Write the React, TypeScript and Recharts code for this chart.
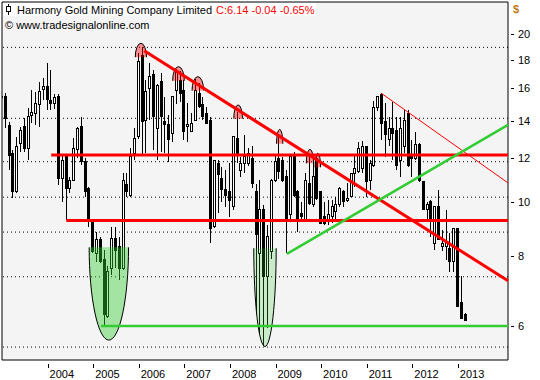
import {
  Bar,
  CartesianGrid,
  ComposedChart,
  ReferenceArea,
  ReferenceLine,
  XAxis,
  YAxis,
} from "recharts";

// monthly candles, Jan 2003 .. Mar 2013
const FIRST_YEAR = 2003;

const opens = [
  15.4, 15.46, 13.7, 12.24, 10.45, 12.75, 13.66, 12.49, 14.3, 14.43,
  14.94, 15.9, 16.15, 15.2, 15.0, 15.46, 11.04, 12.07, 10.59, 10.96,
  12.41, 13.66, 11.82, 10.59, 9.2, 8.1, 8.56, 7.88, 6.25, 7.6,
  8.62, 8.33, 7.61, 10.74, 10.3, 12.24, 13.1, 18.3, 14.04, 16.0,
  16.91, 13.57, 16.45, 13.95, 13.76, 13.29, 15.89, 16.56, 15.89, 13.66,
  13.38, 14.04, 15.68, 14.94, 14.43, 14.04, 9.04, 11.74, 11.04, 10.52,
  10.45, 9.82, 13.02, 11.42, 11.74, 11.74, 11.99, 10.44, 8.1, 9.69,
  7.35, 8.16, 10.96, 11.99, 11.9, 11.11, 9.49, 12.15, 10.45, 9.55,
  9.29, 10.81, 9.89, 11.99, 10.45, 9.42, 9.29, 9.42, 9.62, 9.89,
  10.45, 10.09, 10.23, 11.27, 11.34, 11.5, 12.58, 10.96, 11.66, 14.8,
  15.6, 13.95, 12.93, 13.57, 13.47, 11.9, 12.58, 14.43, 12.07, 11.99,
  12.71, 10.89, 9.72, 10.02, 8.44, 9.82, 8.33, 8.33, 8.27, 7.82,
  8.98, 6.6, 6.28,
];

const highs = [
  15.8, 15.7, 13.95, 12.41, 13.11, 13.66, 14.14, 14.73, 15.89, 15.78,
  16.45, 16.68, 17.74, 17.26, 15.6, 15.6, 12.15, 12.15, 11.11, 13.02,
  13.66, 14.24, 11.99, 10.66, 9.3, 8.86, 8.68, 8.21, 7.7, 9.04,
  9.04, 8.68, 11.27, 11.27, 12.49, 13.57, 18.5, 19.0, 16.56, 17.74,
  17.26, 16.3, 17.02, 15.46, 14.34, 15.46, 17.35, 17.2, 16.56, 15.04,
  14.43, 16.6, 16.34, 15.46, 14.84, 14.24, 11.9, 11.9, 11.58, 11.42,
  11.74, 13.11, 14.5, 12.07, 13.2, 12.5, 12.6, 10.8, 10.96, 9.9,
  9.1, 11.0, 12.15, 13.1, 12.07, 11.42, 12.15, 12.32, 10.52, 10.02,
  11.27, 12.2, 11.74, 12.05, 10.45, 10.02, 10.09, 10.09, 10.23, 10.66,
  10.52, 10.81, 11.27, 12.15, 12.84, 12.9, 12.58, 11.9, 15.2, 15.5,
  15.7, 15.04, 14.24, 15.15, 14.24, 14.24, 14.63, 14.63, 12.93, 13.38,
  12.75, 10.89, 10.02, 10.09, 9.82, 10.52, 8.92, 9.69, 8.8, 9.0,
  9.0, 7.36, 6.32,
];

const lows = [
  15.1, 13.57, 11.42, 10.16, 10.37, 12.32, 12.32, 11.9, 13.85, 13.76,
  13.66, 15.25, 14.63, 14.63, 14.7, 10.74, 10.02, 9.29, 10.37, 10.96,
  11.99, 11.66, 10.23, 9.04, 8.1, 7.82, 7.77, 6.0, 6.2, 7.41,
  7.61, 7.26, 7.55, 10.23, 10.23, 11.9, 13.0, 12.15, 12.24, 14.04,
  12.41, 11.9, 12.32, 12.24, 11.82, 12.84, 15.0, 15.15, 12.93, 12.84,
  13.38, 14.0, 14.73, 14.04, 13.85, 8.44, 8.98, 9.55, 10.02, 9.82,
  9.42, 9.69, 11.74, 11.11, 11.27, 11.6, 10.6, 6.3, 5.8, 5.55,
  5.96, 7.9, 10.89, 11.0, 10.89, 8.1, 9.29, 10.23, 8.86, 9.29,
  9.23, 9.89, 9.82, 10.09, 9.17, 9.11, 9.11, 9.17, 9.29, 9.82,
  9.82, 10.02, 10.23, 10.66, 11.27, 11.27, 10.23, 10.52, 11.58, 14.6,
  12.93, 12.07, 12.6, 11.9, 11.42, 11.11, 12.24, 11.58, 11.11, 11.9,
  10.89, 9.69, 9.29, 8.68, 8.21, 8.56, 8.16, 7.88, 7.51, 7.51,
  6.5, 6.17, 6.12,
];

const closes = [
  15.45, 14.14, 12.15, 10.45, 12.58, 13.47, 12.49, 14.24, 14.5, 15.04,
  15.78, 16.15, 15.25, 15.0, 15.4, 11.04, 11.9, 10.59, 10.96, 12.49,
  13.57, 11.82, 10.45, 9.36, 8.16, 8.56, 7.82, 6.28, 7.5, 8.62,
  8.21, 7.61, 10.96, 10.45, 12.07, 13.02, 17.9, 13.95, 15.78, 16.79,
  14.24, 16.22, 14.24, 13.76, 12.93, 15.46, 17.1, 15.68, 13.38, 13.76,
  13.85, 15.89, 14.84, 14.24, 13.85, 8.98, 11.9, 11.19, 10.52, 10.3,
  10.09, 13.11, 12.24, 11.74, 12.07, 12.24, 10.81, 8.74, 9.69, 7.35,
  8.68, 10.96, 11.82, 11.34, 10.96, 9.29, 12.07, 10.3, 9.29, 9.42,
  10.96, 9.95, 11.11, 10.16, 9.17, 9.17, 9.49, 9.82, 9.89, 10.59,
  10.02, 10.16, 11.27, 11.5, 12.49, 12.58, 10.89, 11.74, 14.8, 15.46,
  13.85, 13.2, 13.57, 13.29, 11.66, 13.57, 14.04, 11.66, 11.99, 12.67,
  10.96, 9.69, 9.89, 9.29, 9.82, 8.56, 8.44, 8.5, 7.82, 8.98,
  6.5, 6.19, 6.14,
];

const yearTicks = [2004, 2005, 2006, 2007, 2008, 2009, 2010, 2011, 2012, 2013];
const priceTicks = [6, 8, 10, 12, 14, 16, 18, 20];
const gridLevels = [18.95, 14.14, 11.82, 10.21, 8.84, 7.35, 5.5];

// drawn support / resistance levels: start time, price
const redLevels = [
  { from: 2004.08, value: 12.15 },
  { from: 2004.41, value: 9.27 },
];
const greenLevels = [{ from: 2005.17, value: 6.0 }];

// trend lines: [t1, p1, t2, p2]
const mainDownTrend = [2006.12, 18.69, 2014.1, 7.23];
const thinDownTrend = [2011.32, 15.68, 2014.1, 10.83];
const upTrend = [2009.25, 8.08, 2014.1, 13.76];

// marked tops (t1, t2, upper price, lower price)
const tops = [
  [2005.923, 2006.171, 19.27, 18.19],
  [2006.743, 2007.0, 17.5, 16.51],
  [2007.169, 2007.424, 16.79, 15.85],
  [2008.084, 2008.275, 14.94, 14.12],
  [2009.022, 2009.161, 13.51, 12.73],
  [2009.675, 2009.835, 12.44, 11.74],
  [2009.868, 2009.989, 12.24, 11.55],
];

// marked bottoms
const bottoms = [
  [2004.912, 2005.776, 8.3, 5.66],
  [2008.523, 2009.015, 8.27, 5.51],
];

const X_DOMAIN: [number, number] = [2003, 2014.1];
const Y_DOMAIN: [number, number] = [5.214, 22.85];

const FONT = '"Liberation Sans", Arial, sans-serif';
const RED = "#ff0000";
const GREEN = "#33cc33";

const data = opens.map((open, i) => ({
  t: FIRST_YEAR + i / 12,
  open,
  high: highs[i],
  low: lows[i],
  close: closes[i],
}));

function Candle(props: any) {
  const { x, y, width, height, payload } = props;
  if (!payload) return null;
  const top = Math.min(y, y + height);
  const h = Math.abs(height);
  const span = Math.log(payload.high / payload.low);
  const yOf = (v: number) => top + (span > 0 ? (h * Math.log(payload.high / v)) / span : 0);
  const cx = Math.floor(x + width / 2) + 0.5;
  const bodyTop = yOf(Math.max(payload.open, payload.close));
  const bodyBottom = yOf(Math.min(payload.open, payload.close));
  const rising = payload.close >= payload.open;
  return (
    <g shapeRendering="crispEdges">
      <line x1={cx} x2={cx} y1={top} y2={top + h} stroke="#000" strokeWidth={1} />
      <rect
        x={cx - 1}
        y={bodyTop}
        width={2}
        height={Math.max(bodyBottom - bodyTop, 1)}
        fill={rising ? "#fff" : "#000"}
        stroke="#000"
        strokeWidth={1}
      />
    </g>
  );
}

const topMarker = (p: any) => {
  const { x, y, width: w, height: h } = p;
  const base = y + h;
  const arc = `M${x},${base} A${w / 2},${h} 0 0 1 ${x + w},${base}`;
  return (
    <g>
      <path d={arc + " Z"} fill={RED} fillOpacity={0.42} />
      <path d={arc} fill="none" stroke="#000" strokeWidth={1} />
    </g>
  );
};

const bottomMarker = (opacity: number) => (p: any) => {
  const { x, y, width: w, height: h } = p;
  const arc = `M${x},${y} A${w / 2},${h} 0 0 0 ${x + w},${y}`;
  return (
    <g>
      <path d={arc + " Z"} fill={GREEN} fillOpacity={opacity} />
      <path d={arc} fill="none" stroke="#000" strokeWidth={1} />
    </g>
  );
};

function YearTick({ x, y, payload }: any) {
  const xx = Math.round(x) + 0.5;
  return (
    <g>
      <line x1={xx} x2={xx} y1={y + 4} y2={y + 8} stroke="#000" />
      <text x={x + 2} y={y + 18} fontSize={11} fontFamily={FONT} fill="#000" textAnchor="start">
        {payload.value}
      </text>
    </g>
  );
}

function PriceTick({ x, y, payload }: any) {
  const yy = Math.round(y) + 0.5;
  return (
    <g>
      <line x1={x + 3} x2={x + 6} y1={yy} y2={yy} stroke="#000" />
      <text x={x + 10} y={y} dy={4} fontSize={11} fontFamily={FONT} fill="#000" textAnchor="start">
        {payload.value}
      </text>
    </g>
  );
}

export default function App() {
  return (
    <div style={{ position: "relative", width: 540, height: 380, background: "#fff" }}>
      <style>{"body{margin:0}"}</style>
      <ComposedChart
        width={540}
        height={380}
        data={data}
        margin={{ top: 2, right: 0, left: 2, bottom: 0 }}
      >
        <CartesianGrid fill="#f4f4f4" horizontal={false} vertical={false} />
        <XAxis
          dataKey="t"
          type="number"
          domain={X_DOMAIN}
          allowDataOverflow
          ticks={yearTicks}
          interval={0}
          height={20}
          tickSize={0}
          tickMargin={0}
          tickLine={false}
          axisLine={{ stroke: "#000" }}
          tick={<YearTick />}
        />
        <YAxis
          orientation="right"
          scale="log"
          domain={Y_DOMAIN}
          allowDataOverflow
          ticks={priceTicks}
          interval={0}
          width={32}
          tickSize={0}
          tickMargin={0}
          tickLine={false}
          axisLine={{ stroke: "#000" }}
          tick={<PriceTick />}
        />
        {gridLevels.map((v) => (
          <ReferenceLine
            key={"g" + v}
            y={v}
            stroke="#000"
            strokeDasharray="1 3"
            ifOverflow="hidden"
            zIndex={-50}
          />
        ))}
        <Bar
          dataKey={(d: any) => [d.low, d.high]}
          barSize={3}
          isAnimationActive={false}
          shape={(p: any) => <Candle {...p} />}
        />
        {bottoms.map(([x1, x2, top, bottom], i) => (
          <ReferenceArea
            key={"b" + i}
            x1={x1}
            x2={x2}
            y1={bottom}
            y2={top}
            ifOverflow="visible"
            shape={bottomMarker(i === 0 ? 0.42 : 0.22)}
            zIndex={600}
          />
        ))}
        {tops.map(([x1, x2, top, base], i) => (
          <ReferenceArea
            key={"t" + i}
            x1={x1}
            x2={x2}
            y1={base}
            y2={top}
            ifOverflow="visible"
            shape={topMarker}
            zIndex={600}
          />
        ))}
        {redLevels.map((l) => (
          <ReferenceLine
            key={"r" + l.value}
            segment={[
              { x: l.from, y: l.value },
              { x: X_DOMAIN[1], y: l.value },
            ]}
            stroke={RED}
            strokeWidth={3}
            ifOverflow="visible"
            zIndex={700}
          />
        ))}
        {greenLevels.map((l) => (
          <ReferenceLine
            key={"gr" + l.value}
            segment={[
              { x: l.from, y: l.value },
              { x: X_DOMAIN[1], y: l.value },
            ]}
            stroke={GREEN}
            strokeWidth={2.5}
            ifOverflow="visible"
            zIndex={700}
          />
        ))}
        <ReferenceLine
          segment={[
            { x: mainDownTrend[0], y: mainDownTrend[1] },
            { x: mainDownTrend[2], y: mainDownTrend[3] },
          ]}
          stroke={RED}
          strokeWidth={3}
          ifOverflow="visible"
          zIndex={700}
        />
        <ReferenceLine
          segment={[
            { x: thinDownTrend[0], y: thinDownTrend[1] },
            { x: thinDownTrend[2], y: thinDownTrend[3] },
          ]}
          stroke={RED}
          strokeWidth={1}
          ifOverflow="visible"
          zIndex={700}
        />
        <ReferenceLine
          segment={[
            { x: upTrend[0], y: upTrend[1] },
            { x: upTrend[2], y: upTrend[3] },
          ]}
          stroke={GREEN}
          strokeWidth={2.5}
          ifOverflow="visible"
          zIndex={700}
        />
        <ReferenceLine x={X_DOMAIN[0]} stroke="#000" ifOverflow="visible" zIndex={900} />
        <ReferenceLine y={Y_DOMAIN[1]} stroke="#000" ifOverflow="visible" zIndex={900} />
      </ComposedChart>

      <div
        style={{
          position: "absolute",
          left: 3,
          top: 3,
          height: 13,
          paddingRight: 2,
          background: "#fff",
          display: "flex",
          alignItems: "center",
          font: `11px ${FONT}`,
          whiteSpace: "nowrap",
          color: "#000",
        }}
      >
        <svg width={14} height={13} style={{ display: "block" }}>
          <line x1={5.5} x2={5.5} y1={1} y2={12} stroke="#000" />
          <rect x={3.5} y={3.5} width={4} height={5} fill="#fff" stroke="#000" />
        </svg>
        <span>Harmony Gold Mining Company Limited</span>
        <span style={{ color: RED, marginLeft: 4 }}>C:6.14 -0.04 -0.65%</span>
      </div>
      <div
        style={{
          position: "absolute",
          left: 5,
          top: 18,
          font: `11px ${FONT}`,
          lineHeight: "14px",
          whiteSpace: "nowrap",
          color: "#000",
        }}
      >
        © www.tradesignalonline.com
      </div>
      <div
        style={{
          position: "absolute",
          left: 513,
          top: 2,
          font: `bold 11px ${FONT}`,
          lineHeight: "14px",
          color: "#c07a1c",
        }}
      >
        $
      </div>
    </div>
  );
}
